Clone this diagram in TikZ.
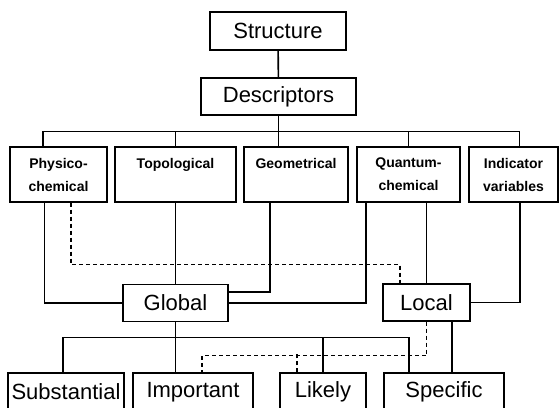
\documentclass[tikz,border=0pt]{standalone}
\usepackage{fontspec}
\setmainfont{Liberation Sans}
\usetikzlibrary{positioning}

\begin{document}
\begin{tikzpicture}[x=1pt, y=-1pt,
	bigbox/.style={draw, line width=1.1pt, inner sep=0pt, minimum height=37, font=\fontsize{22}{24}\selectfont},
	catbox/.style={draw, line width=1.1pt, inner sep=0pt, minimum height=55, align=center, font=\bfseries\fontsize{14}{16}\selectfont},
	link/.style={line width=1.6pt},
	dashlink/.style={line width=1.1pt, dash pattern=on 4pt off 3pt}]

	\useasboundingbox (0,0) rectangle (559,407);
	\clip (0,0) rectangle (559,407);

	\node[bigbox, minimum width=136, minimum height=38] (struct) at (278,31) {Structure};
	\node[bigbox, minimum width=155] (desc) at (278.5,96.5) {Descriptors};
	\coordinate[below=16pt of desc.south] (bus);

	% descriptor classes
	\node[catbox, minimum width=97] (phys) at (58.5,174.5) {Physico-\\[7pt]chemical};
	\node[catbox, minimum width=121] (topo) at (175.5,174.5) {Topological\\[7pt]\phantom{x}};
	\node[catbox, minimum width=104] (geom) at (296,174.5) {Geometrical\\[7pt]\phantom{x}};
	\node[catbox, minimum width=103] (quant) at (408.5,174.5) {Quantum-\\[7pt]chemical};
	\node[catbox, minimum width=89] (ind) at (513.5,174.5) {Indicator\\[7pt]variables};

	\node[bigbox, minimum width=105] (glob) at (175.5,303) {Global};
	\node[bigbox, minimum width=87] (loc) at (426.5,302.5) {Local};

	\node[bigbox, minimum width=116, minimum height=38] (subst) at (66,392) {Substantial};
	\node[bigbox, minimum width=120, minimum height=38] (imp) at (193,392) {Important};
	\node[bigbox, minimum width=86, minimum height=38] (likely) at (323,392) {Likely};
	\node[bigbox, minimum width=120, minimum height=38] (spec) at (444,392) {Specific};

	\draw[link] (struct) -- (desc);
	\draw[link] (desc.south) -- (desc.south |- geom.north);
	\draw[link] ([xshift=-15.5pt]phys.north) |- (bus) -| ([xshift=6pt]ind.north);
	\foreach \n in {topo,quant}
		\draw[link] (\n.north) -- (\n.north |- bus);

	% into global and local
	\draw[link] ([xshift=-14pt]phys.south) |- (glob.west);
	\draw[link] (topo.south) -- (glob.north);
	\draw[link] ([xshift=-26pt]geom.south) |- ([yshift=11pt]glob.east);
	\draw[link] ([xshift=-42.5pt]quant.south) |- (glob.east);
	\draw[link] (loc.north |- quant.south) -- (loc.north);
	\draw[link] ([xshift=6.5pt]ind.south) |- (loc.east);
	\draw[dashlink] ([xshift=12.5pt]phys.south) -- ++(0,62) -| ([xshift=-26.5pt]loc.north);

	% into the bottom row
	\draw[link] (glob.south) -- (glob.south |- imp.north);
	\draw[link] ([xshift=-3pt]subst.north) -- ++(0,-35) -| ([xshift=-35pt]spec.north);
	\draw[link] (likely.north) -- ++(0,-35);
	\draw[link] ([xshift=25.5pt]loc.south) -- ([xshift=8pt]spec.north);
	\draw[dashlink] (loc.south) -- ++(0,34) -| ([xshift=9pt]imp.north);
	\draw[dashlink] ([xshift=-26pt]likely.north) -- ++(0,-18);

\end{tikzpicture}
\end{document}
